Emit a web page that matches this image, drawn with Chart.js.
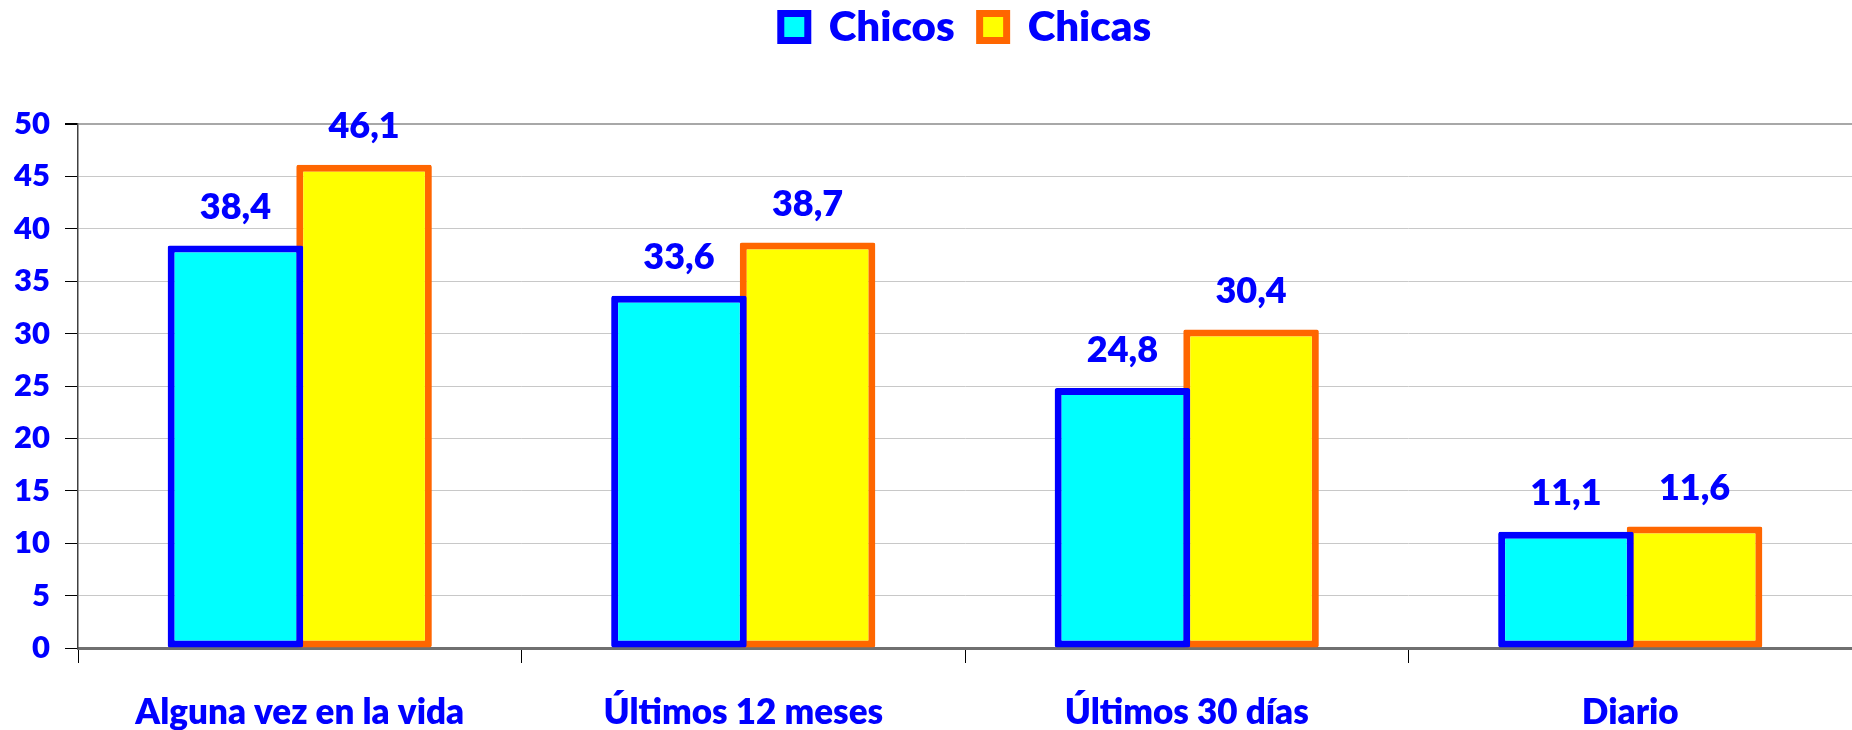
<!DOCTYPE html>
<html>
<head>
<meta charset="utf-8">
<script src="https://cdn.jsdelivr.net/npm/chart.js@4.4.1/dist/chart.umd.min.js"></script>
<style>
  html, body { margin: 0; padding: 0; background: #ffffff; }
  #wrap { width: 1852px; height: 730px; position: relative; }
</style>
</head>
<body>
<div id="wrap"><canvas id="c" width="1852" height="730"></canvas></div>
<script>
const categories = ["Alguna vez en la vida", "Últimos 12 meses", "Últimos 30 días", "Diario"];
const seriesNames = ["Chicos", "Chicas"];
const chicos = [38.4, 33.6, 24.8, 11.1];
const chicas = [46.1, 38.7, 30.4, 11.6];
const yTicks = [0, 5, 10, 15, 20, 25, 30, 35, 40, 45, 50];

const BLUE = '#0000ff';
const FONT = 'Lato, "Open Sans", "DejaVu Sans", sans-serif';
const W = 800;

const fmt = v => v.toFixed(1).replace('.', ',');

const dataLabels = {
  id: 'dataLabels',
  afterDatasetsDraw(chart) {
    const ctx = chart.ctx;
    ctx.save();
    ctx.font = W + ' 36px ' + FONT;
    ctx.fillStyle = BLUE;
    ctx.textAlign = 'center';
    ctx.textBaseline = 'middle';
    chart.data.datasets.forEach((ds, i) => {
      const meta = chart.getDatasetMeta(i);
      meta.data.forEach((bar, j) => {
        ctx.fillText(fmt(ds.data[j]), bar.x, bar.y - 38);
      });
    });
    ctx.restore();
  }
};

const legendGap = {
  id: 'legendGap',
  afterInit(chart) {
    const lg = chart.legend;
    if (!lg) return;
    const orig = lg.fit;
    lg.fit = function () { orig.call(this); this.height += 66; };
  },
  afterLayout(chart) {
    const lg = chart.legend;
    if (!lg) return;
    lg.left += 40;
    lg.right += 40;
  }
};

new Chart(document.getElementById('c'), {
  type: 'bar',
  data: {
    labels: categories,
    datasets: [
      { label: seriesNames[0], data: chicos, backgroundColor: '#00ffff', borderColor: BLUE,
        borderWidth: 7, borderSkipped: false, borderRadius: 2 },
      { label: seriesNames[1], data: chicas, backgroundColor: '#ffff00', borderColor: '#ff6600',
        borderWidth: 7, borderSkipped: false, borderRadius: 2 }
    ]
  },
  options: {
    responsive: false,
    animation: false,
    devicePixelRatio: 1,
    layout: { padding: { top: -19, right: 0, bottom: 0, left: 0 } },
    datasets: { bar: { categoryPercentage: 0.58, barPercentage: 1.054 } },
    plugins: {
      legend: {
        position: 'top',
        labels: {
          color: BLUE,
          font: { family: FONT, size: 42, weight: W },
          boxWidth: 27,
          boxHeight: 27,
          padding: 25,
          generateLabels(chart) {
            return chart.data.datasets.map((ds, i) => ({
              text: ds.label,
              fillStyle: ds.backgroundColor,
              strokeStyle: ds.borderColor,
              lineWidth: 7,
              fontColor: BLUE,
              hidden: false,
              datasetIndex: i
            }));
          }
        }
      },
      tooltip: { enabled: false }
    },
    scales: {
      x: {
        afterFit(scale) { scale.height = 82; },
        grid: { offset: true, drawOnChartArea: false, drawTicks: true, tickLength: 15, color: '#000000', lineWidth: 1 },
        border: { display: true, color: '#707070', width: 3 },
        ticks: { color: BLUE, font: { family: FONT, size: 35, weight: W, lineHeight: 1 }, padding: 32, maxRotation: 0 }
      },
      y: {
        min: 0,
        max: 50,
        afterFit(scale) { scale.width = 78; },
        afterBuildTicks(scale) { scale.ticks = yTicks.map(v => ({ value: v })); },
        grid: {
          color: ctx => (ctx.tick && ctx.tick.value === 50) ? '#a8a8a8' : '#c8c8c8',
          lineWidth: ctx => (ctx.tick && ctx.tick.value === 50) ? 2 : 1,
          tickColor: '#000000',
          tickLength: 13
        },
        border: { display: true, color: '#404040', width: 1.5 },
        ticks: { color: BLUE, font: { family: FONT, size: 31, weight: W }, padding: 15 }
      }
    }
  },
  plugins: [dataLabels, legendGap]
});
</script>
</body>
</html>
